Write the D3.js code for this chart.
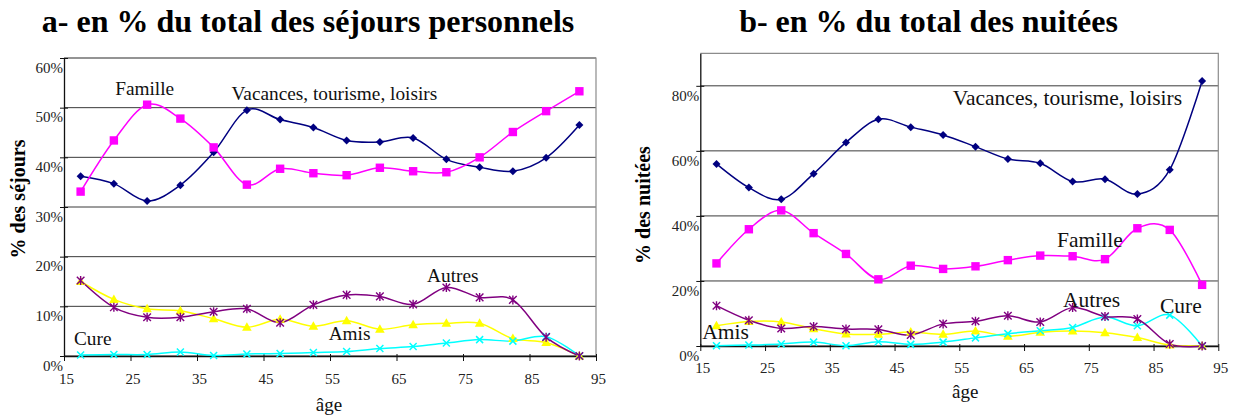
<!DOCTYPE html>
<html><head><meta charset="utf-8">
<script src="https://cdn.jsdelivr.net/npm/d3@7"></script>
<style>body{margin:0;background:#fff}svg{display:block}
svg text{font-family:"Liberation Serif","Tinos","Times New Roman","DejaVu Serif",serif;}</style>
</head><body>
<svg id="c" width="1237" height="419"></svg>
<script>
// ---- data ----
const ages = [17.5,22.5,27.5,32.5,37.5,42.5,47.5,52.5,57.5,62.5,67.5,72.5,77.5,82.5,87.5,92.5];
const xTicks = [15,25,35,45,55,65,75,85,95];
const yTicksA = [0,10,20,30,40,50,60];
const yTicksB = [0,20,40,60,80];

const vacA = [36.2,34.7,31.2,34.4,41.0,49.5,47.6,46.0,43.4,43.1,43.9,39.6,38.0,37.2,39.9,46.5];
const famA = [33.1,43.4,50.6,47.8,42.0,34.5,37.7,36.8,36.4,37.9,37.2,37.0,40.0,45.1,49.3,53.3];
const autA = [15.2,9.8,7.8,7.8,8.9,9.5,6.7,10.3,12.3,12.0,10.4,13.8,11.8,11.3,3.8,0];
const amiA = [15.0,11.4,9.5,9.1,7.5,5.8,7.4,6.0,7.1,5.4,6.3,6.6,6.6,3.5,2.7,0];
const curA = [0.2,0.3,0.3,0.8,0.1,0.4,0.5,0.7,0.9,1.5,1.9,2.6,3.3,3.0,3.9,0];

const vacB = [56.0,48.7,45.1,53.0,62.6,69.7,67.3,64.9,61.3,57.5,56.2,50.6,51.3,46.7,54.2,81.5];
const famB = [25.4,35.9,41.7,34.7,28.3,20.5,24.7,23.7,24.5,26.4,27.8,27.6,26.7,36.2,35.7,18.8];
const autB = [12.4,7.9,5.4,6.0,5.2,5.1,3.4,6.8,7.6,9.3,7.4,11.8,9.1,8.3,0.6,0];
const amiB = [6.2,7.5,7.4,5.3,3.7,3.6,4.3,3.6,4.6,3.0,4.2,4.6,4.1,2.6,0.3,0];
const curB = [0.1,0.3,0.6,1.2,0.1,1.3,0.5,1.2,2.5,3.8,4.7,5.7,8.9,6.2,9.5,0];

const seriesNames = ["Vacances, tourisme, loisirs","Famille","Amis","Cure","Autres"];
const titles = ["a- en % du total des séjours personnels","b- en % du total des nuitées"];
const yTitles = ["% des séjours","% des nuitées"];
const xTitle = "âge";

// ---- styles ----
const styles = {
  "Vacances, tourisme, loisirs": {color:"#000080", marker:"diamond"},
  "Famille": {color:"#ff00ff", marker:"square"},
  "Amis": {color:"#ffff00", marker:"triangle"},
  "Cure": {color:"#00ffff", marker:"x"},
  "Autres": {color:"#800080", marker:"star"}
};

const panels = [
  {x0:64, x1:596, y0:356, y1:58, ymax:60, yTicks:yTicksA,
   values:[vacA,famA,amiA,curA,autA],
   title:titles[0], titleX:308, yTitle:yTitles[0], yTitleX:25, yTitleY:199,
   xTitleY:411, tickFont:15, labelFont:19.3, xTickDy:28,
   labels:{"Famille":[22.7,52.5],"Vacances, tourisme, loisirs":[40.2,51.5],"Autres":[69.6,14.9],"Amis":[54.8,3.2],"Cure":[16.5,2.2]}},
  {x0:700.3, x1:1218.3, y0:346, y1:53.3, ymax:90, yTicks:yTicksB,
   values:[vacB,famB,amiB,curB,autB],
   title:titles[1], titleX:928.5, yTitle:yTitles[1], yTitleX:650, yTitleY:205,
   xTitleY:398, tickFont:15, labelFont:21.5, xTickDy:27,
   labels:{"Famille":[70.1,30.5],"Vacances, tourisme, loisirs":[54.0,74.2],"Autres":[71.0,12.0],"Amis":[15.3,2.2],"Cure":[86.0,10.2]}}
];

const svg = d3.select("#c");

function marker(g, type, color, x, y){
  const s = 4;
  if(type==="diamond"){
    g.append("path").attr("d",`M${x},${y-s}L${x+s},${y}L${x},${y+s}L${x-s},${y}Z`).attr("fill",color);
  } else if(type==="square"){
    g.append("rect").attr("x",x-4.2).attr("y",y-4.2).attr("width",8.4).attr("height",8.4).attr("fill",color);
  } else if(type==="triangle"){
    g.append("path").attr("d",`M${x},${y-5}L${x+4.8},${y+3.5}L${x-4.8},${y+3.5}Z`).attr("fill",color);
  } else if(type==="x"){
    g.append("path").attr("d",`M${x-3.5},${y-3.5}L${x+3.5},${y+3.5}M${x+3.5},${y-3.5}L${x-3.5},${y+3.5}`)
      .attr("stroke",color).attr("stroke-width",1.5);
  } else if(type==="star"){
    g.append("path").attr("d",`M${x-3.8},${y-3.8}L${x+3.8},${y+3.8}M${x+3.8},${y-3.8}L${x-3.8},${y+3.8}M${x},${y-4.5}L${x},${y+4.5}`)
      .attr("stroke",color).attr("stroke-width",1.4);
  }
}

panels.forEach((p,pi) => {
  const x = d3.scaleLinear().domain([15,95]).range([p.x0,p.x1]);
  const y = d3.scaleLinear().domain([0,p.ymax]).range([p.y0,p.y1]);
  const g = svg.append("g");

  // gridlines
  g.selectAll("line.grid").data(p.yTicks).enter().append("line")
    .attr("x1",p.x0).attr("x2",p.x1).attr("y1",d=>y(d)).attr("y2",d=>y(d))
    .attr("stroke","#3a3a3a").attr("stroke-width",1);
  // frame (top/right) gray
  g.append("path").attr("d",`M${p.x0},${p.y1}H${p.x1}V${p.y0}`).attr("fill","none")
    .attr("stroke","#8c8c8c").attr("stroke-width",1.2);

  // y axis
  const ya = d3.axisLeft(y).tickValues(p.yTicks).tickFormat(d=>d+"%").tickSizeInner(4).tickSizeOuter(0);
  const yg = g.append("g").attr("transform",`translate(${p.x0},0)`).call(ya);
  yg.attr("font-family",null);
  yg.select(".domain").attr("stroke","#111").attr("stroke-width",1.3);
  yg.selectAll(".tick line").attr("x2",4).attr("x1",-4).attr("stroke","#111");
  yg.selectAll(".tick text").attr("x",-1).attr("dy","0.95em")
    .attr("font-size",p.tickFont).attr("fill","#222");

  // x axis
  const xa = d3.axisBottom(x).tickValues(xTicks).tickFormat(d3.format("d")).tickSizeOuter(0);
  const xg = g.append("g").attr("transform",`translate(0,${p.y0})`).call(xa);
  xg.attr("font-family",null);
  xg.select(".domain").attr("stroke","#111").attr("stroke-width",1.3);
  xg.selectAll(".tick line").attr("y1",-2).attr("y2",5).attr("stroke","#111");
  xg.selectAll(".tick text").attr("y",p.xTickDy).attr("dy",0).attr("dx",2)
    .attr("font-size",p.tickFont).attr("fill","#222");

  // lines
  const line = d3.line().x((d,i)=>x(ages[i])).y(d=>y(d)).curve(d3.curveCardinal.tension(0));
  seriesNames.forEach((name,k) => {
    g.append("path").datum(p.values[k]).attr("d",line).attr("fill","none")
      .attr("stroke",styles[name].color).attr("stroke-width",1.5);
  });
  seriesNames.forEach((name,k) => {
    const mg = g.append("g");
    p.values[k].forEach((v,i)=>marker(mg, styles[name].marker, styles[name].color, x(ages[i]), y(v)));
  });

  // inline labels
  Object.entries(p.labels).forEach(([name,[ax,ay]]) => {
    g.append("text").attr("x",x(ax)).attr("y",y(ay)).text(name)
      .attr("font-size",p.labelFont).attr("fill","#111");
  });

  // titles
  svg.append("text").attr("x",p.titleX).attr("y",32).attr("text-anchor","middle").text(p.title)
    .attr("font-weight","bold").attr("font-size",32).attr("fill","#000");
  svg.append("text").attr("transform",`translate(${p.yTitleX},${p.yTitleY}) rotate(-90)`)
    .attr("text-anchor","middle").text(p.yTitle)
    .attr("font-weight","bold").attr("font-size",20).attr("fill","#000");
  svg.append("text").attr("x",(p.x0+p.x1)/2 + (pi===0?-1:6)).attr("y",p.xTitleY).attr("text-anchor","middle").text(xTitle)
    .attr("font-size",19).attr("fill","#111");
});
</script>
</body></html>
